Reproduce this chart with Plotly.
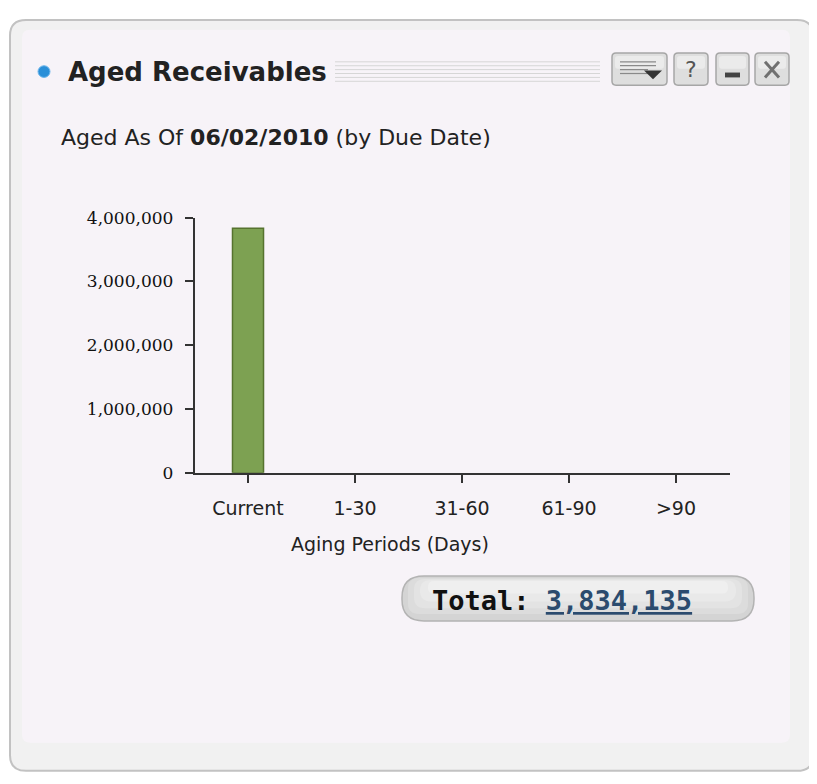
import plotly.graph_objects as go

# ---- data ----
categories = ["Current", "1-30", "31-60", "61-90", ">90"]
values = [3834135, 0, 0, 0, 0]
y_ticks = [0, 1000000, 2000000, 3000000, 4000000]
y_tick_labels = ["0", "1,000,000", "2,000,000", "3,000,000", "4,000,000"]
title_text = "Aged Receivables"
as_of_date = "06/02/2010"
x_title = "Aging Periods (Days)"
total = sum(values)

OFF = 8            # browser body margin
W, H = 817 - 2 * OFF, 784 - 2 * OFF


def px(x):
    return (x - OFF) / W


def py(y):
    return 1 - (y - OFF) / H


def rounded(x0, y0, x1, y1, r):
    return (f"M {px(x0 + r)} {py(y0)} L {px(x1 - r)} {py(y0)} "
            f"Q {px(x1)} {py(y0)} {px(x1)} {py(y0 + r)} "
            f"L {px(x1)} {py(y1 - r)} Q {px(x1)} {py(y1)} {px(x1 - r)} {py(y1)} "
            f"L {px(x0 + r)} {py(y1)} Q {px(x0)} {py(y1)} {px(x0)} {py(y1 - r)} "
            f"L {px(x0)} {py(y0 + r)} Q {px(x0)} {py(y0)} {px(x0 + r)} {py(y0)} Z")


fig = go.Figure()
fig.add_trace(go.Bar(
    x=categories, y=values, width=0.29,
    marker=dict(color="#7da152",
                line=dict(color="#56732f", width=[1.5 if v > 0 else 0 for v in values])),
    hoverinfo="skip",
))

shapes = []
# panel outer
shapes.append(dict(type="path", xref="paper", yref="paper", layer="below",
                   path=rounded(10, 10, 813, 781, 16),
                   fillcolor="#f1f1f1", line=dict(color="#c2c2c2", width=2)))
# inner lavender
shapes.append(dict(type="path", xref="paper", yref="paper", layer="below",
                   path=rounded(22, 20, 790, 752, 8),
                   fillcolor="#f7f3f8", line=dict(width=0)))
# title stripes
for i in range(6):
    yy = 53 + i * 4
    shapes.append(dict(type="line", xref="paper", yref="paper", layer="below",
                       x0=px(335), x1=px(600), y0=py(yy), y1=py(yy),
                       line=dict(color="#d6d6d6", width=1)))
# blue dot
shapes.append(dict(type="circle", xref="paper", yref="paper",
                   x0=px(38), x1=px(50), y0=py(69), y1=py(57),
                   fillcolor="#2a8fd8", line=dict(color="#6cb6ec", width=1)))
# buttons
for (bx0, bx1) in [(612, 667), (674, 708), (716, 749), (755, 789)]:
    shapes.append(dict(type="path", xref="paper", yref="paper",
                       path=rounded(bx0, 44, bx1, 77, 4),
                       fillcolor="#dedede", line=dict(color="#a6a6a6", width=1.5)))
    shapes.append(dict(type="path", xref="paper", yref="paper",
                       path=rounded(bx0 + 3, 47, bx1 - 3, 60, 3),
                       fillcolor="#ebebeb", line=dict(width=0)))
# menu icon lines
for yy in [53, 57, 61, 65]:
    shapes.append(dict(type="line", xref="paper", yref="paper",
                       x0=px(620), x1=px(648 if yy > 57 else 656), y0=py(yy), y1=py(yy),
                       line=dict(color="#8a8a8a", width=1.2)))
shapes.append(dict(type="path", xref="paper", yref="paper",
                   path=f"M {px(644)} {py(62)} L {px(662)} {py(62)} L {px(653)} {py(71)} Z",
                   fillcolor="#333333", line=dict(width=0)))
# minus icon
shapes.append(dict(type="rect", xref="paper", yref="paper",
                   x0=px(725), x1=px(740), y0=py(69), y1=py(64),
                   fillcolor="#444444", line=dict(width=0)))
# X icon
shapes.append(dict(type="line", xref="paper", yref="paper",
                   x0=px(765), x1=px(779), y0=py(53), y1=py(69),
                   line=dict(color="#707070", width=3)))
shapes.append(dict(type="line", xref="paper", yref="paper",
                   x0=px(765), x1=px(779), y0=py(69), y1=py(53),
                   line=dict(color="#707070", width=3)))
# total pill with soft gradient
shapes.append(dict(type="path", xref="paper", yref="paper",
                   path=rounded(402, 581, 754, 627, 22),
                   fillcolor="#d4d4d4", line=dict(color="#b3b3b3", width=1.5)))
for (ya, yb, xi, col) in [(583, 620, 6, "#dcdcdc"), (584, 614, 12, "#e3e3e3"),
                          (585, 607, 18, "#e9e9e9"), (586, 599, 26, "#efefef")]:
    shapes.append(dict(type="path", xref="paper", yref="paper",
                       path=rounded(402 + xi, ya, 754 - xi, yb, min(11, (yb - ya) // 2)),
                       fillcolor=col, line=dict(width=0)))

annotations = [
    dict(text=f"<b>{title_text}</b>", x=px(66), y=py(63), xanchor="left", yanchor="middle",
         font=dict(family="DejaVu Sans", size=26, color="#222222")),
    dict(text=f"Aged As Of <b>{as_of_date}</b> (by Due Date)", x=px(59), y=py(131),
         xanchor="left", yanchor="middle",
         font=dict(family="DejaVu Sans", size=22, color="#222222")),
    dict(text=x_title, x=px(390), y=py(548), xanchor="center", yanchor="middle",
         font=dict(family="DejaVu Sans", size=19, color="#222222")),
    dict(text=f"<b>Total: <span style='color:#2b4b6e'><u>{total:,}</u></span></b>",
         x=px(430), y=py(606), xanchor="left", yanchor="middle",
         font=dict(family="DejaVu Sans Mono", size=27, color="#111111")),
    dict(text="?", x=px(691), y=py(61), xanchor="center", yanchor="middle",
         font=dict(family="DejaVu Sans", size=22, color="#555555")),
]
for a in annotations:
    a.update(xref="paper", yref="paper", showarrow=False)

fig.update_layout(
    width=W, height=H,
    margin=dict(l=0, r=0, t=0, b=0),
    paper_bgcolor="#ffffff",
    plot_bgcolor="rgba(0,0,0,0)",
    showlegend=False,
    hovermode=False,
    shapes=shapes,
    annotations=annotations,
    xaxis=dict(
        domain=[px(194.5), px(729.5)], range=[-0.5, 4.5],
        showline=True, linecolor="#333333", linewidth=1.5,
        ticks="outside", ticklen=8, tickwidth=1.5, tickcolor="#333333",
        showgrid=False, zeroline=False, ticklabelstandoff=10,
        tickfont=dict(family="DejaVu Sans", size=19, color="#222222"),
    ),
    yaxis=dict(
        domain=[py(475), py(213)], range=[0, 4000000],
        tickvals=y_ticks, ticktext=y_tick_labels,
        showline=True, linecolor="#333333", linewidth=1.5,
        ticks="outside", ticklen=8, tickwidth=1.5, tickcolor="#333333",
        showgrid=False, zeroline=False, ticklabelstandoff=8,
        tickfont=dict(family="DejaVu Serif", size=17, color="#111111"),
    ),
)

fig.write_html("out.html", config={"displayModeBar": False})
